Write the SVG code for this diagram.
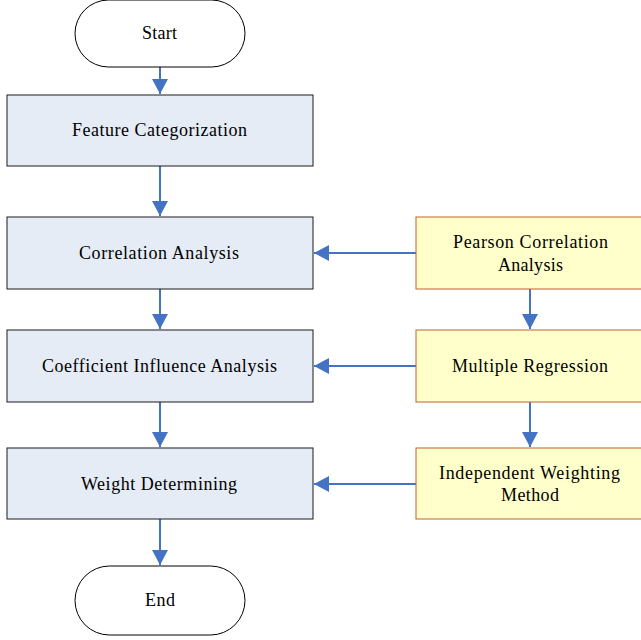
<svg xmlns="http://www.w3.org/2000/svg" width="641" height="640" viewBox="0 0 641 640">
<style>
.term{fill:#ffffff;stroke:#000000;stroke-width:1}
.proc{fill:#e6ecf6;stroke:#1a1a1a;stroke-width:1}
.meth{fill:#ffffcc;stroke:#c0622a;stroke-width:1}
.lbl{font-family:"Liberation Serif","Times New Roman",serif;font-size:18px;fill:#000;text-anchor:middle;dominant-baseline:central}
.conn{stroke:#4472c4;stroke-width:2;fill:none;marker-end:url(#ah)}
</style>
<defs>
<marker id="ah" markerUnits="userSpaceOnUse" markerWidth="16" markerHeight="16" refX="15" refY="8" orient="auto">
<path d="M0,0 L15,8 L0,16 Z" fill="#4472c4"/>
</marker>
</defs>
<rect width="641" height="640" fill="#ffffff"/>
<g id="connectors">
<line class="conn" x1="160" y1="67" x2="160" y2="94"/>
<line class="conn" x1="160" y1="166" x2="160" y2="216"/>
<line class="conn" x1="160" y1="289" x2="160" y2="329"/>
<line class="conn" x1="160" y1="402" x2="160" y2="447"/>
<line class="conn" x1="160" y1="519" x2="160" y2="565"/>
<line class="conn" x1="416" y1="253" x2="314" y2="253"/>
<line class="conn" x1="416" y1="366" x2="314" y2="366"/>
<line class="conn" x1="416" y1="484" x2="314" y2="484"/>
<line class="conn" x1="530" y1="289" x2="530" y2="329"/>
<line class="conn" x1="530" y1="402" x2="530" y2="447"/>
</g>
<g id="start">
<rect class="term" x="75" y="0" width="170" height="67" rx="33.5" ry="33.5"/>
<text class="lbl" x="159.5" y="33" textLength="35" lengthAdjust="spacing">Start</text>
</g>
<g id="feature">
<rect class="proc" x="7" y="95" width="306" height="71"/>
<text class="lbl" x="159.5" y="130" textLength="175" lengthAdjust="spacing">Feature Categorization</text>
</g>
<g id="correlation">
<rect class="proc" x="7" y="217" width="306" height="72"/>
<text class="lbl" x="159" y="253" textLength="160" lengthAdjust="spacing">Correlation Analysis</text>
</g>
<g id="coefficient">
<rect class="proc" x="7" y="330" width="306" height="72"/>
<text class="lbl" x="159.5" y="366" textLength="235" lengthAdjust="spacing">Coefficient Influence Analysis</text>
</g>
<g id="weight">
<rect class="proc" x="7" y="448" width="306" height="71"/>
<text class="lbl" x="159" y="484" textLength="156" lengthAdjust="spacing">Weight Determining</text>
</g>
<g id="end">
<rect class="term" x="75" y="566" width="170" height="69" rx="34.5" ry="34.5"/>
<text class="lbl" x="160" y="600" textLength="30" lengthAdjust="spacing">End</text>
</g>
<g id="pearson">
<rect class="meth" x="416" y="217" width="230" height="72"/>
<text class="lbl" x="530.5" y="242" textLength="155" lengthAdjust="spacing">Pearson Correlation</text>
<text class="lbl" x="530.5" y="265" textLength="65" lengthAdjust="spacing">Analysis</text>
</g>
<g id="regression">
<rect class="meth" x="416" y="330" width="230" height="72"/>
<text class="lbl" x="530" y="366" textLength="156" lengthAdjust="spacing">Multiple Regression</text>
</g>
<g id="independent">
<rect class="meth" x="416" y="448" width="230" height="71"/>
<text class="lbl" x="529.5" y="473" textLength="181" lengthAdjust="spacing">Independent Weighting</text>
<text class="lbl" x="530" y="495" textLength="58" lengthAdjust="spacing">Method</text>
</g>
</svg>
